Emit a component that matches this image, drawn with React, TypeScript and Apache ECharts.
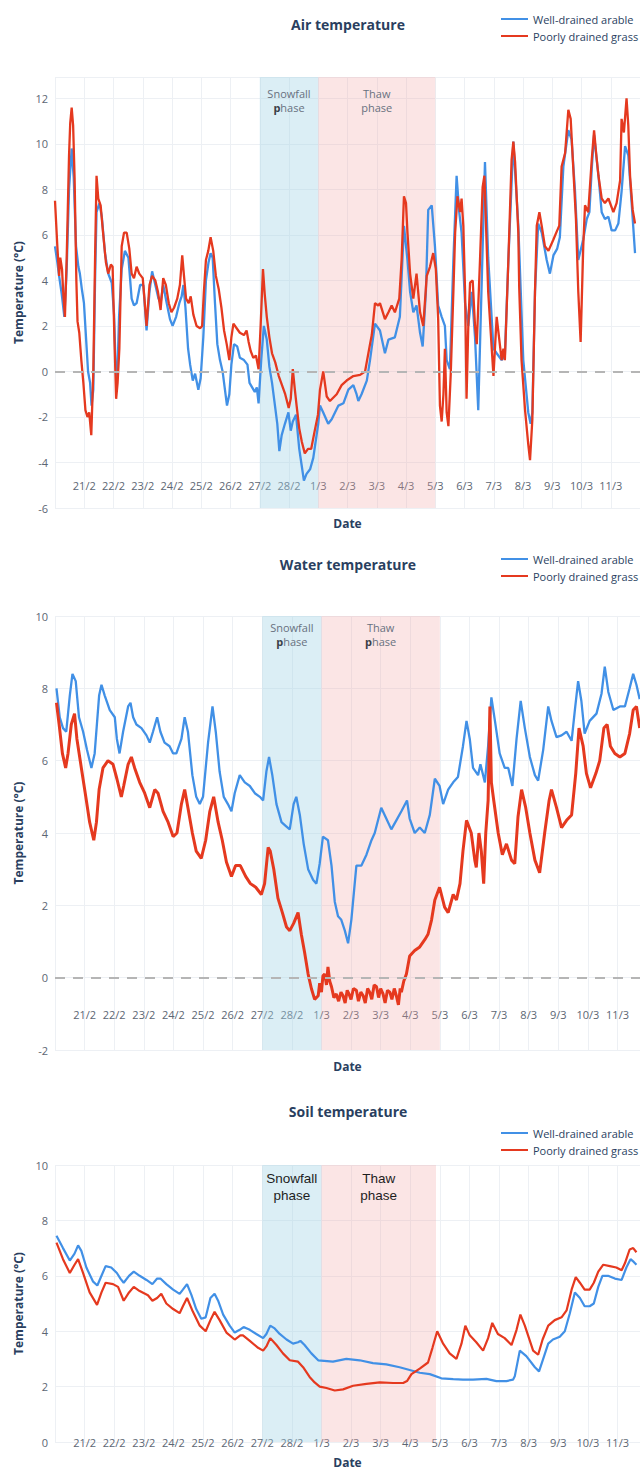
import React, { useEffect, useRef } from 'react';
import * as echarts from 'echarts';

type Pt = [number, number];

// x values are days since 20/2 00:00
const DATE_LABELS = ['20/2', '21/2', '22/2', '23/2', '24/2', '25/2', '26/2', '27/2', '28/2', '1/3', '2/3', '3/3', '4/3', '5/3', '6/3', '7/3', '8/3', '9/3', '10/3', '11/3', '12/3'];
const SERIES_NAMES = ['Well-drained arable', 'Poorly drained grass'];
const PANEL_TITLES = ['Air temperature', 'Water temperature', 'Soil temperature'];
const PHASE_DAYS = { snowStart: 7, snowEnd: 9, thawEnd: 13 };

const airWell: Pt[] = [[0.00,5.5],[0.08,4.8],[0.14,4.2],[0.23,3.4],[0.32,2.4],[0.40,4.5],[0.48,8.0],[0.57,9.8],[0.64,8.5],[0.72,5.5],[0.80,4.6],[0.85,4.3],[0.92,3.6],[0.99,3.0],[1.06,1.5],[1.13,0.0],[1.20,-0.5],[1.25,-1.5],[1.31,-0.8],[1.37,4.0],[1.42,7.0],[1.52,7.4],[1.60,6.8],[1.71,5.2],[1.82,4.3],[1.94,3.9],[2.02,2.5],[2.07,0.3],[2.13,-0.3],[2.19,2.4],[2.28,4.5],[2.39,5.3],[2.51,5.0],[2.62,3.2],[2.70,2.9],[2.79,3.0],[2.91,3.8],[3.02,3.8],[3.13,1.8],[3.23,3.5],[3.32,4.4],[3.43,3.8],[3.54,3.2],[3.61,3.0],[3.70,3.8],[3.82,3.0],[3.93,2.3],[4.02,2.0],[4.14,2.4],[4.25,3.0],[4.33,3.3],[4.39,3.8],[4.46,2.8],[4.55,1.0],[4.62,0.3],[4.71,-0.4],[4.79,-0.1],[4.90,-0.8],[4.98,-0.3],[5.07,1.5],[5.16,4.0],[5.25,4.8],[5.32,5.2],[5.39,5.0],[5.47,3.0],[5.55,1.2],[5.64,0.5],[5.73,0.0],[5.81,-0.8],[5.88,-1.5],[5.96,-1.0],[6.03,0.3],[6.12,1.2],[6.23,1.1],[6.32,0.6],[6.46,0.5],[6.58,0.3],[6.65,-0.5],[6.74,-0.7],[6.83,-0.9],[6.90,-0.7],[6.96,-1.4],[7.05,0.5],[7.14,2.0],[7.24,1.4],[7.33,0.2],[7.42,-0.5],[7.52,-1.5],[7.60,-2.3],[7.67,-3.5],[7.75,-2.8],[7.86,-2.3],[7.98,-1.8],[8.06,-2.6],[8.13,-2.2],[8.24,-1.9],[8.35,-3.4],[8.43,-4.1],[8.51,-4.8],[8.60,-4.5],[8.72,-4.3],[8.83,-3.8],[8.92,-3.0],[9.00,-2.3],[9.06,-1.5],[9.17,-1.8],[9.34,-2.3],[9.46,-2.1],[9.69,-1.5],[9.86,-1.4],[10.03,-0.8],[10.20,-0.6],[10.31,-1.0],[10.37,-1.3],[10.48,-1.0],[10.66,-0.4],[10.77,0.5],[10.94,2.1],[11.11,1.8],[11.28,0.8],[11.40,1.4],[11.62,1.5],[11.79,2.4],[11.93,6.4],[12.05,4.9],[12.14,3.5],[12.25,2.6],[12.36,2.9],[12.48,1.7],[12.57,1.1],[12.68,3.5],[12.76,7.1],[12.88,7.3],[12.99,5.5],[13.10,2.9],[13.22,2.4],[13.33,2.0],[13.39,0.5],[13.50,0.1],[13.62,4.9],[13.73,8.6],[13.82,7.0],[13.90,6.1],[14.02,3.0],[14.13,2.0],[14.25,3.5],[14.36,1.5],[14.47,-1.7],[14.59,4.0],[14.70,9.2],[14.81,5.0],[14.99,1.0],[15.10,0.8],[15.27,0.5],[15.38,0.7],[15.50,4.9],[15.67,10.1],[15.84,6.4],[16.01,0.5],[16.18,-1.8],[16.26,-2.3],[16.32,-1.8],[16.41,3.5],[16.52,6.5],[16.64,6.1],[16.81,4.9],[16.92,4.3],[17.04,5.1],[17.17,5.4],[17.26,5.9],[17.38,9.0],[17.55,10.6],[17.66,10.2],[17.78,7.9],[17.89,4.9],[18.06,5.8],[18.18,6.7],[18.27,7.0],[18.35,8.9],[18.43,10.4],[18.52,9.3],[18.58,8.6],[18.69,7.0],[18.80,6.7],[18.92,6.8],[19.03,6.2],[19.15,6.2],[19.26,6.5],[19.37,7.9],[19.49,9.9],[19.60,9.5],[19.72,7.3],[19.83,5.2]];

const airPoor: Pt[] = [[0.00,7.5],[0.08,5.5],[0.14,4.2],[0.18,5.0],[0.24,4.5],[0.28,3.5],[0.34,2.4],[0.40,5.0],[0.48,9.5],[0.52,10.9],[0.57,11.6],[0.62,10.8],[0.67,8.5],[0.73,4.0],[0.77,2.2],[0.83,1.7],[0.90,0.5],[0.97,-0.5],[1.04,-1.7],[1.11,-2.0],[1.17,-1.8],[1.24,-2.8],[1.31,0.0],[1.37,5.0],[1.42,8.6],[1.48,7.6],[1.56,7.3],[1.65,6.0],[1.74,4.8],[1.82,4.3],[1.91,4.7],[1.97,4.6],[2.03,1.5],[2.09,-1.2],[2.14,-0.5],[2.20,1.0],[2.28,5.5],[2.36,6.1],[2.45,6.1],[2.54,5.4],[2.62,4.3],[2.70,4.1],[2.79,4.6],[2.88,4.3],[3.00,4.1],[3.07,3.0],[3.13,2.0],[3.23,3.8],[3.32,4.2],[3.43,4.0],[3.52,3.5],[3.61,2.7],[3.70,4.1],[3.79,3.8],[3.89,3.0],[3.98,2.6],[4.07,2.8],[4.18,3.2],[4.27,3.8],[4.35,5.1],[4.41,4.2],[4.48,3.2],[4.57,3.0],[4.64,3.3],[4.73,2.5],[4.84,2.0],[4.96,1.9],[5.03,2.0],[5.09,3.5],[5.16,4.9],[5.24,5.3],[5.32,5.9],[5.41,5.3],[5.50,4.2],[5.60,3.6],[5.69,2.8],[5.78,1.8],[5.87,1.2],[5.96,0.5],[6.03,1.5],[6.10,2.1],[6.21,1.9],[6.32,1.7],[6.46,1.6],[6.55,1.8],[6.62,1.3],[6.69,0.9],[6.78,0.6],[6.87,0.7],[6.96,0.1],[7.03,2.0],[7.11,4.5],[7.17,3.4],[7.24,2.4],[7.33,1.5],[7.42,0.8],[7.53,0.4],[7.65,-0.2],[7.76,-0.6],[7.87,-1.0],[7.99,-1.6],[8.06,-1.2],[8.13,0.1],[8.20,-0.8],[8.26,-1.5],[8.35,-2.5],[8.44,-3.1],[8.54,-3.6],[8.65,-3.4],[8.76,-3.4],[8.88,-2.6],[8.99,-1.9],[9.06,-0.8],[9.17,0.0],[9.29,-1.1],[9.40,-1.3],[9.63,-1.0],[9.80,-0.6],[9.97,-0.4],[10.20,-0.2],[10.43,-0.15],[10.60,0.0],[10.77,1.2],[10.83,1.6],[10.94,3.0],[11.05,2.9],[11.11,3.0],[11.28,2.3],[11.40,2.6],[11.51,2.9],[11.62,2.6],[11.77,3.2],[11.85,4.9],[11.93,7.7],[12.00,7.4],[12.05,6.1],[12.14,4.3],[12.25,3.2],[12.36,4.3],[12.48,2.6],[12.59,2.0],[12.71,4.2],[12.82,4.6],[12.93,5.2],[13.02,4.5],[13.10,2.3],[13.16,-1.5],[13.22,-2.2],[13.28,-1.0],[13.33,1.0],[13.39,-1.8],[13.45,-2.4],[13.53,-0.1],[13.62,3.5],[13.68,6.1],[13.76,7.7],[13.85,7.0],[13.90,7.6],[13.96,6.4],[14.02,3.5],[14.07,-1.2],[14.13,2.0],[14.19,3.9],[14.28,4.0],[14.36,2.0],[14.42,1.2],[14.53,4.9],[14.62,8.1],[14.68,8.6],[14.81,3.5],[14.99,-0.2],[15.10,2.4],[15.27,0.5],[15.33,1.0],[15.38,0.5],[15.50,4.9],[15.61,9.3],[15.67,10.1],[15.73,9.2],[15.84,6.1],[15.87,3.7],[15.95,0.5],[16.07,-1.7],[16.18,-3.2],[16.24,-3.9],[16.32,-2.1],[16.41,3.5],[16.47,6.4],[16.56,7.0],[16.64,6.4],[16.75,5.5],[16.87,5.3],[17.04,5.8],[17.17,6.2],[17.24,6.4],[17.32,9.0],[17.44,9.6],[17.55,11.5],[17.63,11.1],[17.72,8.9],[17.81,6.7],[17.89,3.5],[17.97,1.3],[18.06,5.5],[18.12,7.3],[18.23,7.0],[18.35,9.3],[18.43,10.6],[18.50,9.6],[18.58,8.6],[18.69,7.6],[18.80,7.4],[18.92,7.6],[19.09,7.0],[19.20,7.4],[19.32,8.4],[19.37,11.1],[19.45,10.5],[19.54,12.0],[19.60,10.8],[19.66,8.6],[19.75,7.1],[19.83,6.5]];

const waterWell: Pt[] = [[0.05,8.0],[0.16,7.2],[0.27,6.9],[0.38,6.8],[0.50,7.8],[0.59,8.4],[0.70,8.2],[0.81,7.2],[0.95,6.8],[1.08,6.3],[1.23,5.8],[1.34,6.2],[1.49,7.8],[1.57,8.1],[1.68,7.8],[1.85,7.4],[2.02,7.2],[2.09,6.6],[2.18,6.2],[2.30,6.8],[2.47,7.5],[2.55,7.6],[2.64,7.2],[2.75,7.0],[2.92,6.9],[3.09,6.7],[3.20,6.5],[3.31,6.8],[3.45,7.2],[3.56,6.8],[3.70,6.5],[3.87,6.4],[3.99,6.2],[4.10,6.2],[4.27,6.6],[4.38,7.2],[4.49,6.8],[4.64,5.6],[4.77,5.0],[4.89,4.8],[5.00,5.0],[5.17,6.5],[5.32,7.5],[5.43,6.8],[5.56,5.7],[5.70,5.0],[5.84,4.8],[5.96,4.6],[6.07,5.1],[6.24,5.6],[6.41,5.4],[6.58,5.3],[6.75,5.1],[6.92,5.0],[7.03,4.9],[7.14,5.7],[7.23,6.1],[7.34,5.6],[7.48,4.8],[7.65,4.3],[7.79,4.2],[7.93,4.1],[8.06,4.8],[8.15,5.0],[8.27,4.5],[8.40,3.7],[8.55,3.0],[8.72,2.7],[8.83,2.6],[8.94,3.15],[9.05,3.9],[9.22,3.8],[9.34,3.1],[9.45,2.1],[9.56,1.7],[9.67,1.6],[9.79,1.3],[9.90,0.95],[10.01,1.6],[10.18,3.1],[10.35,3.1],[10.52,3.4],[10.69,3.8],[10.80,4.0],[11.02,4.7],[11.19,4.4],[11.36,4.1],[11.53,4.35],[11.70,4.6],[11.89,4.9],[11.98,4.4],[12.15,4.0],[12.32,4.15],[12.49,4.0],[12.66,4.5],[12.83,5.5],[12.99,5.3],[13.11,4.8],[13.28,5.2],[13.45,5.4],[13.61,5.55],[13.78,6.4],[13.90,7.1],[14.01,6.6],[14.12,5.8],[14.29,5.6],[14.37,5.9],[14.52,5.4],[14.63,6.4],[14.74,7.75],[14.86,7.1],[15.02,6.2],[15.19,5.8],[15.31,5.8],[15.45,5.3],[15.59,6.6],[15.73,7.65],[15.87,6.9],[16.04,6.1],[16.21,5.6],[16.32,5.45],[16.49,6.3],[16.66,7.5],[16.77,7.1],[16.94,6.65],[17.11,6.7],[17.28,6.8],[17.45,6.55],[17.56,7.4],[17.67,8.2],[17.78,7.65],[17.89,6.75],[18.06,7.1],[18.29,7.3],[18.46,7.85],[18.57,8.6],[18.69,7.9],[18.86,7.4],[19.08,7.5],[19.25,7.5],[19.41,8.0],[19.53,8.4],[19.64,8.1],[19.75,7.7]];

const waterPoor: Pt[] = [[0.05,7.6],[0.14,7.0],[0.25,6.2],[0.36,5.8],[0.44,6.2],[0.55,7.0],[0.66,7.3],[0.74,6.6],[0.89,5.8],[1.04,5.0],[1.17,4.3],[1.31,3.8],[1.40,4.3],[1.49,5.2],[1.62,5.8],[1.79,6.0],[1.96,5.9],[2.09,5.5],[2.24,5.0],[2.32,5.3],[2.47,5.9],[2.58,6.1],[2.69,5.8],[2.86,5.4],[3.03,5.1],[3.20,4.7],[3.37,5.2],[3.48,5.1],[3.65,4.6],[3.82,4.3],[3.99,3.9],[4.12,4.0],[4.27,4.8],[4.38,5.2],[4.49,4.7],[4.64,4.0],[4.77,3.5],[4.94,3.3],[5.09,3.8],[5.23,4.6],[5.36,5.0],[5.51,4.3],[5.65,3.8],[5.79,3.2],[5.96,2.8],[6.10,3.1],[6.26,3.1],[6.44,2.8],[6.60,2.6],[6.78,2.5],[6.97,2.3],[7.08,2.6],[7.20,3.6],[7.27,3.5],[7.39,3.0],[7.53,2.2],[7.68,1.8],[7.82,1.4],[7.93,1.3],[8.06,1.5],[8.21,1.8],[8.32,1.2],[8.43,0.7],[8.55,0.1],[8.66,-0.3],[8.77,-0.6],[8.89,-0.5],[8.94,-0.15],[9.00,-0.4],[9.05,0.05],[9.11,0.1],[9.17,-0.2],[9.22,0.3],[9.28,-0.1],[9.34,-0.25],[9.42,-0.55],[9.50,-0.45],[9.58,-0.65],[9.66,-0.4],[9.73,-0.5],[9.80,-0.7],[9.87,-0.35],[9.93,-0.45],[10.00,-0.6],[10.08,-0.3],[10.18,-0.35],[10.25,-0.65],[10.33,-0.4],[10.41,-0.5],[10.48,-0.7],[10.56,-0.3],[10.63,-0.4],[10.70,-0.6],[10.78,-0.2],[10.86,-0.25],[10.93,-0.55],[11.00,-0.3],[11.08,-0.45],[11.15,-0.7],[11.23,-0.35],[11.31,-0.4],[11.38,-0.6],[11.46,-0.3],[11.53,-0.5],[11.60,-0.75],[11.66,-0.3],[11.70,-0.4],[11.78,-0.1],[11.87,0.1],[11.98,0.6],[12.15,0.75],[12.32,0.85],[12.49,1.05],[12.60,1.2],[12.72,1.6],[12.83,2.15],[12.99,2.5],[13.16,1.95],[13.28,1.8],[13.45,2.3],[13.56,2.15],[13.68,2.6],[13.78,3.5],[13.90,4.35],[14.06,4.0],[14.18,3.25],[14.23,3.05],[14.32,4.0],[14.40,3.5],[14.48,2.6],[14.55,4.0],[14.63,4.9],[14.69,7.5],[14.74,5.4],[14.82,4.9],[14.97,4.0],[15.11,3.4],[15.25,3.7],[15.42,3.25],[15.53,3.15],[15.64,4.45],[15.76,5.2],[15.90,4.7],[16.04,4.0],[16.21,3.25],[16.37,2.9],[16.54,4.0],[16.69,4.9],[16.77,5.2],[16.94,4.7],[17.11,4.15],[17.28,4.35],[17.45,4.5],[17.59,5.65],[17.70,6.9],[17.84,6.4],[17.95,5.65],[18.09,5.25],[18.27,5.65],[18.40,6.0],[18.54,6.9],[18.65,7.0],[18.76,6.4],[18.91,6.2],[19.08,6.1],[19.25,6.2],[19.41,6.75],[19.53,7.4],[19.64,7.5],[19.75,6.9]];

const soilWell: Pt[] = [[0.05,7.45],[0.27,7.0],[0.50,6.55],[0.66,6.8],[0.78,7.1],[0.89,6.9],[1.06,6.3],[1.28,5.8],[1.43,5.65],[1.57,6.0],[1.71,6.35],[1.90,6.3],[2.09,6.1],[2.21,5.9],[2.32,5.75],[2.50,6.0],[2.66,6.15],[2.86,6.0],[3.09,5.85],[3.29,5.7],[3.45,5.9],[3.56,5.9],[3.76,5.7],[3.99,5.5],[4.21,5.35],[4.32,5.5],[4.46,5.7],[4.61,5.3],[4.77,4.8],[4.94,4.45],[5.09,4.5],[5.25,5.2],[5.39,5.35],[5.51,5.1],[5.68,4.6],[5.90,4.2],[6.07,3.95],[6.24,4.05],[6.37,4.15],[6.58,4.05],[6.80,3.9],[7.03,3.75],[7.14,3.9],[7.27,4.2],[7.42,4.1],[7.59,3.9],[7.82,3.7],[8.04,3.55],[8.21,3.6],[8.29,3.65],[8.43,3.5],[8.66,3.2],[8.89,2.95],[9.39,2.9],[9.84,3.0],[10.29,2.95],[10.74,2.85],[11.19,2.8],[11.64,2.7],[11.98,2.6],[12.32,2.5],[12.66,2.45],[13.05,2.3],[13.45,2.27],[13.78,2.25],[14.12,2.25],[14.57,2.28],[14.91,2.2],[15.25,2.2],[15.47,2.25],[15.53,2.37],[15.70,3.3],[15.92,3.1],[16.21,2.7],[16.35,2.55],[16.49,3.0],[16.66,3.55],[16.82,3.7],[17.05,3.8],[17.22,4.0],[17.39,4.65],[17.56,5.4],[17.73,5.2],[17.89,4.9],[18.06,4.9],[18.20,5.0],[18.35,5.6],[18.49,6.0],[18.68,6.0],[18.91,5.9],[19.14,5.85],[19.30,6.3],[19.44,6.6],[19.55,6.5],[19.64,6.4]];

const soilPoor: Pt[] = [[0.05,7.2],[0.27,6.6],[0.50,6.1],[0.66,6.4],[0.78,6.6],[0.95,6.1],[1.17,5.4],[1.42,4.95],[1.57,5.4],[1.71,5.75],[1.96,5.7],[2.13,5.6],[2.32,5.1],[2.50,5.4],[2.66,5.6],[2.86,5.45],[3.14,5.3],[3.29,5.1],[3.45,5.2],[3.59,5.35],[3.76,5.0],[3.99,4.8],[4.21,4.65],[4.32,4.9],[4.46,5.2],[4.66,4.7],[4.89,4.2],[5.09,4.0],[5.25,4.4],[5.39,4.7],[5.56,4.4],[5.79,3.95],[6.07,3.7],[6.26,3.85],[6.35,3.85],[6.58,3.65],[6.86,3.4],[7.03,3.3],[7.14,3.45],[7.27,3.75],[7.48,3.5],[7.70,3.2],[7.93,2.95],[8.21,2.9],[8.38,2.7],[8.60,2.35],[8.77,2.15],[8.94,2.0],[9.17,1.95],[9.45,1.86],[9.73,1.9],[10.07,2.03],[10.52,2.1],[10.97,2.15],[11.42,2.13],[11.76,2.13],[11.89,2.2],[12.04,2.45],[12.32,2.65],[12.60,2.87],[12.75,3.4],[12.91,4.0],[13.11,3.55],[13.33,3.2],[13.56,3.0],[13.73,3.55],[13.86,4.2],[14.01,3.85],[14.23,3.6],[14.46,3.3],[14.63,3.75],[14.77,4.3],[14.96,3.9],[15.19,3.75],[15.42,3.5],[15.59,4.05],[15.72,4.6],[15.87,4.2],[16.15,3.3],[16.32,3.15],[16.47,3.7],[16.66,4.2],[16.88,4.4],[17.11,4.5],[17.28,4.75],[17.45,5.5],[17.59,5.95],[17.73,5.75],[17.89,5.5],[18.06,5.5],[18.20,5.75],[18.35,6.15],[18.52,6.4],[18.74,6.35],[18.96,6.3],[19.14,6.2],[19.25,6.45],[19.41,6.95],[19.53,7.0],[19.64,6.85]];

const FONT = "'Open Sans', 'Noto Sans', sans-serif";
const BLUE = '#4190e6';
const RED = '#e5391f';
const NAVY = '#2a3f5f';
const TICK = '#5c6673';
const GRID = '#edf0f4';

const PANELS = [
  { titleTop: 17, legendTop: 12, gridTop: 77, gridHeight: 431, xMax: 20, yMin: -6, yMax: 12.94, labelOffset: -23, dateGap: 32, zero: true, style: 'air', thawEnd: 13, data: [airWell, airPoor], blueWidth: 2.3, redWidth: 2.3 },
  { titleTop: 557, legendTop: 552, gridTop: 616, gridHeight: 434, xMax: 19.76, yMin: -2, yMax: 10, labelOffset: -36, dateGap: 46, zero: true, style: 'water', thawEnd: 13, data: [waterWell, waterPoor], blueWidth: 2.3, redWidth: 3 },
  { titleTop: 1104, legendTop: 1126, gridTop: 1165, gridHeight: 277, xMax: 19.76, yMin: 0, yMax: 10, labelOffset: 0, dateGap: 14, zero: false, style: 'soil', thawEnd: 12.87, data: [soilWell, soilPoor], blueWidth: 2.2, redWidth: 2.2 },
];

function bandLabel(style: string, word: string, boldP: boolean) {
  if (style === 'soil') {
    return {
      show: true, position: 'insideTop', distance: 5,
      formatter: `{c|${word}}\n{c|phase}`,
      rich: { c: { fontSize: 13.5, color: '#1e1e1e', fontFamily: "'Liberation Sans', Arial, sans-serif", lineHeight: 17, align: 'center' } },
    };
  }
  const a = { fontSize: 11, color: '#687180', fontFamily: FONT, lineHeight: 14 };
  const b = { fontSize: 11, color: '#3a3f48', fontFamily: FONT, lineHeight: 14, fontWeight: 'bold' };
  return {
    show: true, position: 'insideTop', distance: style === 'air' ? 9 : 4,
    formatter: boldP ? `{a|${word}}\n{b|p}{a|hase}` : `{a|${word}}\n{a|phase}`,
    rich: { a, b },
  };
}

export default function App() {
  const ref = useRef<HTMLDivElement>(null);
  useEffect(() => {
    document.body.style.margin = '0';
    if (!ref.current) return;
    const chart = echarts.init(ref.current, null, { renderer: 'svg' });
    const grids: any[] = [];
    const xAxes: any[] = [];
    const yAxes: any[] = [];
    const titles: any[] = [];
    const legends: any[] = [];
    const series: any[] = [];
    PANELS.forEach((p, i) => {
      grids.push({ left: 55, width: 585, top: p.gridTop, height: p.gridHeight, containLabel: false });
      titles.push({
        text: PANEL_TITLES[i], left: 348, textAlign: 'center', top: p.titleTop, padding: 0,
        textStyle: { fontSize: 14, fontWeight: 'bold', color: NAVY, fontFamily: FONT },
      });
      legends.push({
        data: SERIES_NAMES, orient: 'vertical', left: 501, top: p.legendTop, padding: 0,
        icon: 'rect', itemWidth: 27, itemHeight: 2, itemGap: 3,
        textStyle: { fontSize: 11, color: NAVY, fontFamily: FONT, lineHeight: 14 },
      });
      xAxes.push({
        type: 'value', gridIndex: i, min: 0, max: p.xMax, interval: 1, offset: p.labelOffset,
        name: 'Date', nameLocation: 'middle', nameGap: p.dateGap,
        nameTextStyle: { fontSize: 12, fontWeight: 'bold', color: NAVY, fontFamily: FONT },
        axisLine: { show: false }, axisTick: { show: false },
        axisLabel: {
          margin: 0, verticalAlign: 'middle', fontSize: 11, color: TICK, fontFamily: FONT,
          showMinLabel: false, showMaxLabel: false,
          formatter: (v: number) => {
            const k = Math.round(v);
            if (Math.abs(v - k) > 1e-6 || k < 1 || k > 19) return '';
            return DATE_LABELS[k];
          },
        },
        splitLine: { show: true, lineStyle: { color: GRID, width: 1 } },
      });
      yAxes.push({
        type: 'value', gridIndex: i, min: p.yMin, max: p.yMax, interval: 2,
        name: 'Temperature (°C)', nameLocation: 'middle', nameGap: 30,
        nameTextStyle: { fontSize: 12, fontWeight: 'bold', color: NAVY, fontFamily: FONT },
        axisLine: { show: false }, axisTick: { show: false },
        axisLabel: {
          margin: 7, fontSize: 11, color: TICK, fontFamily: FONT,
          formatter: (v: number) => (Math.abs(v - Math.round(v)) < 1e-6 ? String(Math.round(v)) : ''),
        },
        splitLine: { show: true, lineStyle: { color: GRID, width: 1 } },
      });
      const boldSnow = p.style !== 'soil';
      const boldThaw = p.style === 'water';
      series.push({
        type: 'line', name: SERIES_NAMES[0], xAxisIndex: i, yAxisIndex: i,
        data: p.data[0], showSymbol: false, symbol: 'none',
        lineStyle: { color: BLUE, width: p.blueWidth }, itemStyle: { color: BLUE },
        emphasis: { disabled: true }, z: 3,
        markArea: {
          silent: true,
          data: [
            [{ xAxis: PHASE_DAYS.snowStart, itemStyle: { color: 'rgba(160,210,230,0.38)' }, label: bandLabel(p.style, 'Snowfall', boldSnow) }, { xAxis: PHASE_DAYS.snowEnd }],
            [{ xAxis: PHASE_DAYS.snowEnd, itemStyle: { color: 'rgba(240,160,160,0.28)' }, label: bandLabel(p.style, 'Thaw', boldThaw) }, { xAxis: p.thawEnd }],
          ],
        },
        markLine: p.zero ? {
          silent: true, symbol: ['none', 'none'], label: { show: false },
          lineStyle: { color: '#b5b5b5', type: [10, 8], width: 2 },
          data: [{ yAxis: 0 }],
        } : undefined,
      });
      series.push({
        type: 'line', name: SERIES_NAMES[1], xAxisIndex: i, yAxisIndex: i,
        data: p.data[1], showSymbol: false, symbol: 'none',
        lineStyle: { color: RED, width: p.redWidth }, itemStyle: { color: RED },
        emphasis: { disabled: true }, z: 4,
      });
    });
    chart.setOption({
      animation: false,
      backgroundColor: '#ffffff',
      title: titles,
      legend: legends,
      grid: grids,
      xAxis: xAxes,
      yAxis: yAxes,
      series,
    });
    return () => chart.dispose();
  }, []);
  return <div ref={ref} style={{ width: 640, height: 1469 }} />;
}
